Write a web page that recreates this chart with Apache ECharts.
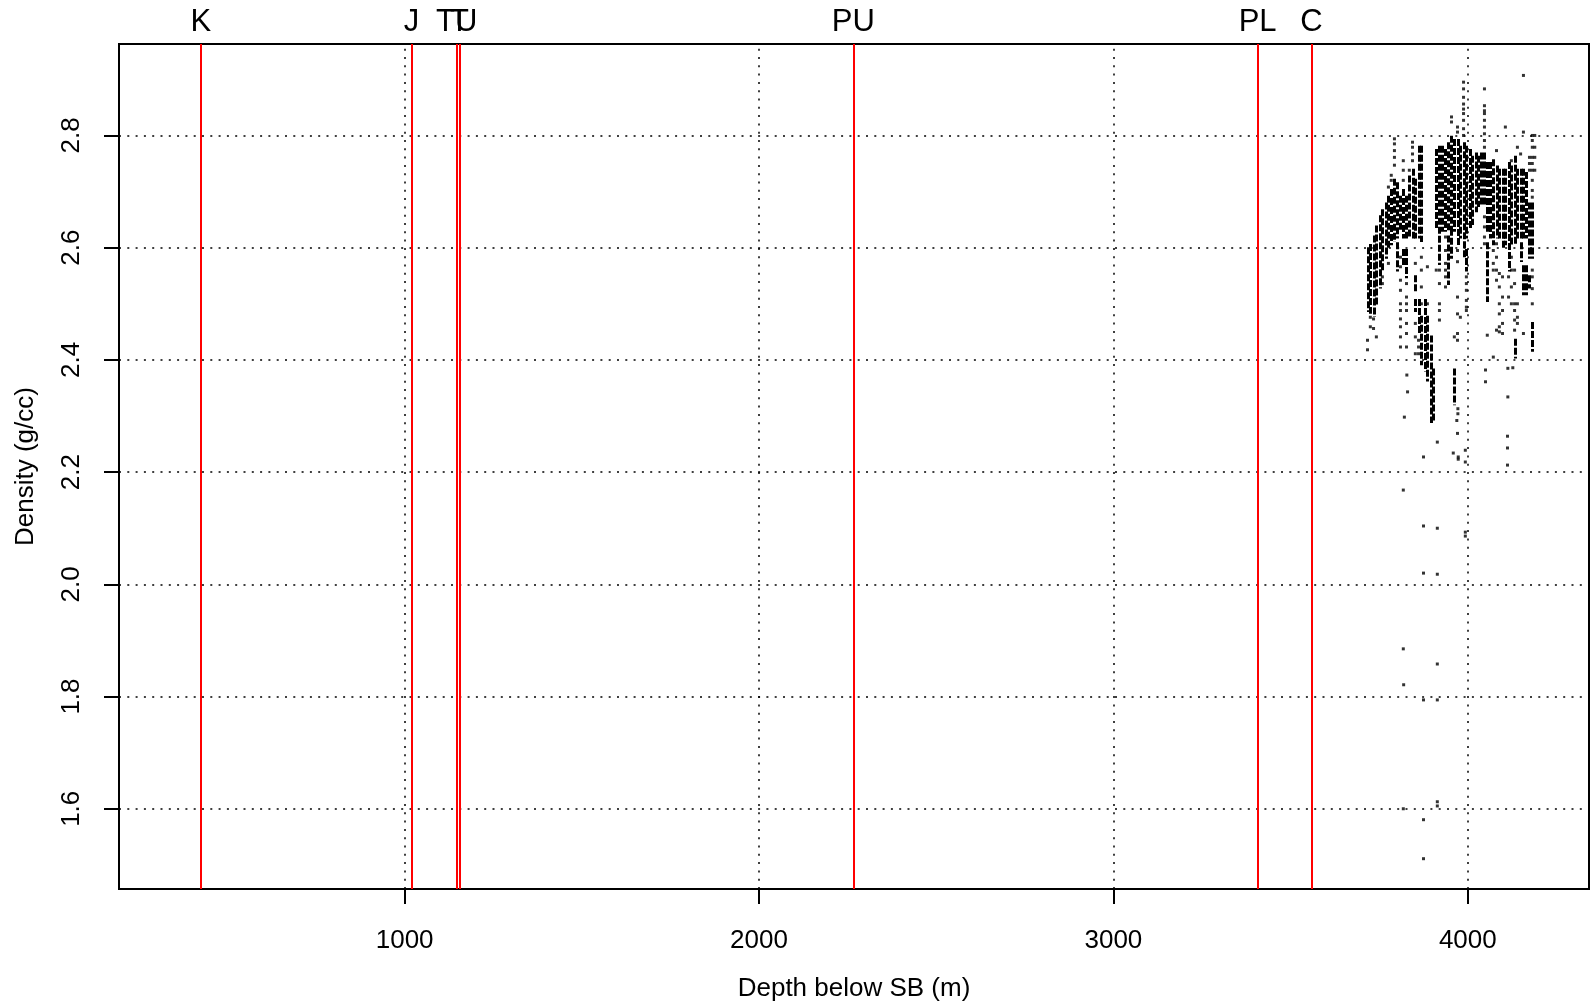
<!DOCTYPE html>
<html>
<head>
<meta charset="utf-8">
<script src="https://cdn.jsdelivr.net/npm/echarts@6.0.0/dist/echarts.min.js"></script>
<style>
html,body{margin:0;padding:0;background:#fff;}
#chart{width:1596px;height:1007px;}
</style>
</head>
<body>
<div id="chart"></div>
<script>
// ---- axis ranges and ticks ----
const xRange = [194, 4342];
const yRange = [1.457, 2.963];
const xTicks = [1000, 2000, 3000, 4000];
const yTicks = [1.6, 1.8, 2.0, 2.2, 2.4, 2.6, 2.8];

// ---- formation tops (red lines) ----
const topNames  = ['K', 'J', 'TU', 'T', 'PU', 'PL', 'C'];
const topDepths = [425, 1019.5, 1147, 1155, 2266, 3407, 3558.6];

// ---- dense parts of the density log: depth, upper density, lower density ----
const denseDepth = [
 3717,3725,3734,3742,3751,3759,3768,3776,3784,3793,
 3801,3801,3810,3818,3818,3827,3827,3835,3844,3852,
 3852,3852,3861,3861,3869,3869,3878,3886,3895,3903,
 3911,3920,3928,3937,3945,3945,3954,3954,3962,3962,
 3971,3979,3988,3996,3996,4005,4013,4022,4030,4038,
 4047,4055,4055,4064,4072,4081,4089,4098,4106,4115,
 4123,4132,4132,4140,4149,4149,4157,4157,4165,4165,
 4174,4174,4182,4182
];
const denseHigh = [
 2.598,2.604,2.619,2.637,2.655,2.666,2.678,2.690,2.702,2.720,
 2.714,2.607,2.690,2.702,2.595,2.690,2.595,2.726,2.738,2.720,
 2.548,2.506,2.779,2.506,2.779,2.476,2.506,2.476,2.441,2.382,
 2.773,2.779,2.779,2.773,2.785,2.619,2.797,2.631,2.791,2.382,
 2.791,2.779,2.785,2.779,2.595,2.773,2.761,2.767,2.761,2.767,
 2.767,2.750,2.607,2.750,2.755,2.744,2.738,2.738,2.738,2.750,
 2.744,2.761,2.435,2.738,2.738,2.607,2.738,2.566,2.732,2.566,
 2.678,2.548,2.678,2.465
];
const denseLow = [
 2.488,2.485,2.479,2.500,2.530,2.560,2.583,2.601,2.607,2.613,
 2.619,2.560,2.631,2.619,2.572,2.619,2.548,2.619,2.619,2.619,
 2.524,2.488,2.619,2.447,2.613,2.393,2.382,2.364,2.290,2.293,
 2.637,2.572,2.631,2.631,2.631,2.536,2.631,2.583,2.631,2.322,
 2.607,2.619,2.583,2.619,2.560,2.637,2.643,2.666,2.675,2.678,
 2.678,2.631,2.506,2.619,2.607,2.619,2.619,2.601,2.607,2.560,
 2.607,2.607,2.405,2.619,2.619,2.577,2.619,2.518,2.619,2.518,
 2.583,2.530,2.583,2.417
];

// ---- individual samples outside the dense parts: depth, density ----
const sampleDepth = [
 3717,3717,3725,3725,3734,3734,3742,3759,3759,3776,3776,3784,3784,
 3793,3793,3793,3793,3793,
 3810,3810,3810,3810,3810,3810,3810,3810,3810,3810,
 3818,3818,3818,
 3827,3827,3827,3827,3827,3827,3827,
 3835,3844,3844,3844,3844,
 3852,3852,3852,3852,3861,3861,3861,
 3869,3869,3869,3869,3886,3886,3911,
 3920,3920,3920,3920,3920,
 3937,3937,3937,3937,3937,3937,
 3954,3954,3962,3971,3971,3971,3971,3971,3971,3971,3971,3972,3972,3969,
 3979,
 3988,3988,3988,3988,3988,3988,3988,3988,3988,
 3996,3996,3996,3996,3996,3996,
 4047,4047,4047,4047,4047,4047,4047,4047,4047,4047,4047,4047,4047,
 4055,4050,4050,4072,4072,4072,4072,
 4081,4081,4081,4081,4081,4081,
 4089,4089,4089,4089,4089,4089,
 4098,4098,4098,4098,4098,
 4106,4115,4115,4113,4113,4123,4123,4123,4123,4123,4127,
 4132,4132,4132,4132,4132,4132,
 4140,4140,4140,4140,4149,4157,4157,4157,
 4174,4174,4174,
 4182,4182,4182,4182,4182,4182,4182,4182,4182,4182,4182,4182,4182,
 4189,4189,4189,4189,
 3818,3875,3914,3993,3993,3875,3914,3818,3914,3819,3875,3914,3818,3914,3914,3875,3875,
 3914,3875,3959,3971,3973,3973,3993,3993,4112,4112,4112,
 3828,3830,3821
];
const sampleDensity = [
 2.435,2.418,2.476,2.459,2.473,2.456,2.441,2.548,2.536,2.708,2.572,2.729,2.720,
 2.794,2.785,2.773,2.761,2.747,
 2.583,2.566,2.542,2.524,2.500,2.488,2.473,2.459,2.441,2.423,
 2.755,2.738,2.720,
 2.536,2.512,2.500,2.488,2.465,2.447,2.423,
 2.738,2.788,2.779,2.767,2.755,
 2.572,2.465,2.441,2.411,2.435,2.423,2.411,
 2.583,2.560,2.530,2.500,2.566,2.500,2.560,
 2.560,2.536,2.500,2.488,2.471,
 2.619,2.595,2.572,2.560,2.548,2.530,
 2.833,2.824,2.441,2.815,2.806,2.595,2.575,2.512,2.482,2.447,2.435,2.313,2.304,2.292,
 2.476,
 2.895,2.883,2.868,2.856,2.847,2.839,2.827,2.812,2.800,
 2.548,2.536,2.524,2.506,2.494,2.488,
 2.883,2.853,2.844,2.839,2.827,2.815,2.803,2.791,2.779,2.655,2.637,2.619,2.607,
 2.444,2.382,2.361,2.595,2.572,2.560,2.405,
 2.773,2.607,2.583,2.560,2.542,2.453,
 2.554,2.530,2.500,2.482,2.459,2.450,
 2.548,2.512,2.488,2.465,2.447,
 2.815,2.548,2.512,2.385,2.334,2.755,2.583,2.560,2.530,2.500,2.386,
 2.560,2.536,2.500,2.488,2.471,2.453,
 2.779,2.500,2.476,2.465,2.767,2.907,2.806,2.447,
 2.761,2.750,2.738,
 2.800,2.791,2.779,2.761,2.750,2.738,2.720,2.702,2.690,2.560,2.548,2.527,2.500,
 2.800,2.779,2.761,2.738,
 2.168,2.104,2.100,2.093,2.086,2.020,2.018,1.885,1.858,1.821,1.794,1.794,1.600,1.6125,1.605,1.5805,1.511,
 2.2535,2.227,2.234,2.269,2.227,2.223,2.239,2.218,2.264,2.243,2.2125,
 2.373,2.343,2.298
];

const FONT = "'Liberation Sans', Arial, Helvetica, sans-serif";
const chart = echarts.init(document.getElementById('chart'), null, {renderer: 'canvas'});

const denseData = denseDepth.map((d, i) => [d, denseHigh[i], denseLow[i]]);
const sampleData = sampleDepth.map((d, i) => [d, sampleDensity[i]]);
const gridLines = xTicks.map(v => ({xAxis: v})).concat(yTicks.map(v => ({yAxis: v})));
const topLines = topDepths.map((d, i) => ({xAxis: d, label: {formatter: topNames[i]}}));

chart.setOption({
  animation: false,
  backgroundColor: '#fff',
  grid: {left: 119, top: 44, width: 1470, height: 846, show: true, borderColor: '#000', borderWidth: 2, backgroundColor: 'transparent'},
  xAxis: {
    type: 'value', min: xRange[0], max: xRange[1],
    name: 'Depth below SB (m)', nameLocation: 'middle', nameGap: 87,
    nameTextStyle: {fontFamily: FONT, fontSize: 26, color: '#000'},
    axisLine: {show: false},
    axisTick: {show: true, inside: false, length: 15, customValues: xTicks, lineStyle: {color: '#000', width: 2}},
    axisLabel: {customValues: xTicks, margin: 39, fontFamily: FONT, fontSize: 26, color: '#000', formatter: v => String(v)},
    splitLine: {show: false}
  },
  yAxis: {
    type: 'value', min: yRange[0], max: yRange[1],
    name: 'Density (g/cc)', nameLocation: 'middle', nameGap: 80, nameRotate: 90,
    nameTextStyle: {fontFamily: FONT, fontSize: 26, color: '#000'},
    axisLine: {show: false},
    axisTick: {show: true, inside: false, length: 15, customValues: yTicks, lineStyle: {color: '#000', width: 2}},
    axisLabel: {customValues: yTicks, rotate: 90, margin: 34, fontFamily: FONT, fontSize: 26, color: '#000', formatter: v => v.toFixed(1)},
    splitLine: {show: false}
  },
  series: [
    {
      type: 'line', data: [], silent: true, z: 1,
      markLine: {
        silent: true, symbol: ['none', 'none'], animation: false,
        label: {show: false},
        lineStyle: {color: '#000', width: 1.5, type: [2, 6.3], opacity: 1},
        emphasis: {disabled: true},
        data: gridLines
      }
    },
    {
      type: 'line', data: [], silent: true, z: 3,
      markLine: {
        silent: true, symbol: ['none', 'none'], animation: false,
        lineStyle: {color: '#ff0000', width: 2, type: 'solid', opacity: 1},
        label: {show: true, position: 'end', distance: 6, fontFamily: FONT, fontSize: 31, color: '#000'},
        emphasis: {disabled: true},
        data: topLines
      }
    },
    {
      type: 'custom', z: 4, silent: true,
      data: denseData,
      encode: {x: 0, y: [1, 2]},
      renderItem: function (params, api) {
        const a = api.coord([api.value(0), api.value(1)]);
        const b = api.coord([api.value(0), api.value(2)]);
        const x = Math.round(a[0]) + 0.5;
        return {
          type: 'line',
          shape: {x1: x, y1: a[1] - 1.5, x2: x, y2: b[1] + 1.5},
          style: {stroke: '#000', lineWidth: 3, lineDash: [7, 2]}
        };
      }
    },
    {
      type: 'scatter', z: 5, silent: true,
      symbol: 'rect', symbolSize: 3,
      itemStyle: {color: '#000'},
      data: sampleData
    }
  ]
});
</script>
</body>
</html>
